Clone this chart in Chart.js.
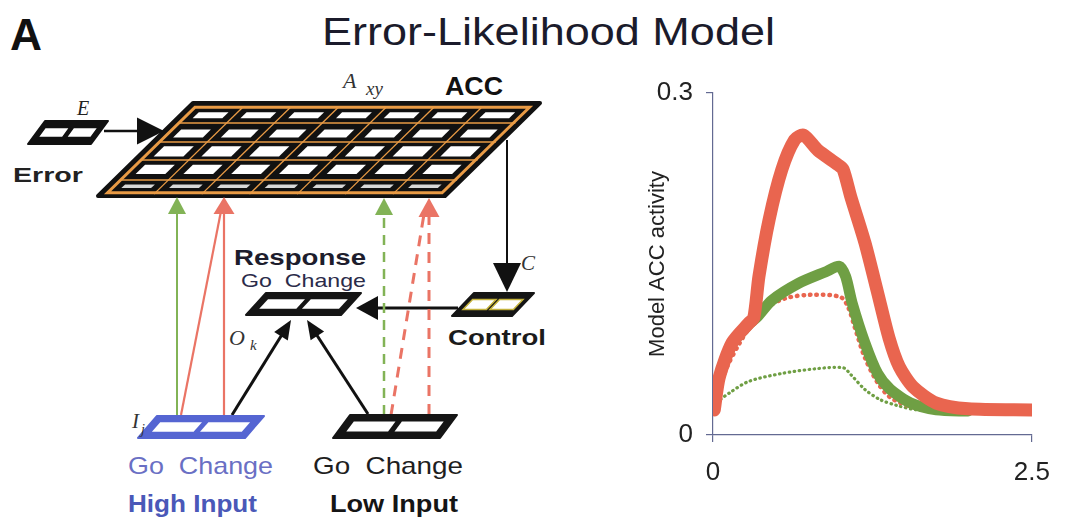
<!DOCTYPE html>
<html>
<head>
<meta charset="utf-8">
<script src="https://cdn.jsdelivr.net/npm/chart.js@4.4.1/dist/chart.umd.min.js"></script>
<style>
  body { margin: 0; background: #fff; }
  #page { position: relative; width: 1065px; height: 529px; overflow: hidden; background: #fff; }
  #diagram { position: absolute; left: 0; top: 0; }
  #diagram text { white-space: pre; }
  #chartBox { position: absolute; left: 620px; top: 60px; width: 445px; height: 469px; }
</style>
</head>
<body>
<div id="page">
  <svg id="diagram" width="1065" height="529" xmlns="http://www.w3.org/2000/svg"></svg>
  <div id="chartBox"><canvas id="accChart" width="445" height="469"></canvas></div>
</div>
<script>
// Chart data (time in s, model ACC activity)
var xTicks = [0, 2.5];
var yTicks = [0, 0.3];

var highChangeX = [0.01, 0.05, 0.15, 0.28, 0.32, 0.36, 0.44, 0.54, 0.64, 0.71, 0.82, 0.98, 1.02, 1.08, 1.19, 1.29, 1.38, 1.46, 1.57, 1.75, 2.0, 2.5];
var highChangeY = [0.022, 0.051, 0.081, 0.098, 0.103, 0.139, 0.189, 0.233, 0.259, 0.263, 0.250, 0.237, 0.233, 0.209, 0.169, 0.125, 0.085, 0.060, 0.042, 0.028, 0.023, 0.022];

var highGoX = [0.01, 0.05, 0.15, 0.28, 0.35, 0.46, 0.67, 0.88, 0.99, 1.04, 1.09, 1.19, 1.29, 1.39, 1.55, 1.75, 2.0];
var highGoY = [0.022, 0.050, 0.080, 0.097, 0.104, 0.118, 0.133, 0.143, 0.148, 0.139, 0.116, 0.081, 0.054, 0.040, 0.028, 0.022, 0.021];

var lowChangeX = [0.01, 0.03, 0.10, 0.21, 0.31, 0.41, 0.57, 0.77, 1.0, 1.06, 1.11, 1.19, 1.29, 1.39, 1.55, 1.75, 2.0];
var lowChangeY = [0.022, 0.031, 0.057, 0.081, 0.098, 0.111, 0.120, 0.123, 0.121, 0.112, 0.095, 0.068, 0.046, 0.033, 0.025, 0.022, 0.021];

var lowGoX = [0.0, 0.05, 0.13, 0.28, 0.54, 0.80, 1.02, 1.08, 1.19, 1.31, 1.44, 1.6, 2.0];
var lowGoY = [0.020, 0.030, 0.037, 0.047, 0.054, 0.058, 0.059, 0.053, 0.040, 0.031, 0.026, 0.022, 0.020];

var RED = "#e9654f";
var GREEN = "#6f9f44";
var AXIS = "#636a92";
var SANS = "'Liberation Sans', Arial, Helvetica, sans-serif";
var SERIF = "'Liberation Serif', 'Times New Roman', serif";

function pts(xs, ys) {
  return xs.map(function (x, i) { return { x: x, y: ys[i] }; });
}

// ---------- left-hand network diagram (plain SVG) ----------
var svg = document.getElementById("diagram");
var NS = "http://www.w3.org/2000/svg";

function el(tag, attrs, text) {
  var e = document.createElementNS(NS, tag);
  for (var k in attrs) e.setAttribute(k, attrs[k]);
  if (text) e.textContent = text;
  svg.appendChild(e);
  return e;
}
function poly(p, attrs) {
  attrs.points = p.map(function (q) { return q[0].toFixed(1) + "," + q[1].toFixed(1); }).join(" ");
  return el("polygon", attrs);
}
function text(x, y, s, size, opts) {
  opts = opts || {};
  var a = {
    x: x, y: y, "font-size": size,
    "font-family": opts.serif ? SERIF : SANS,
    "font-weight": opts.bold ? "bold" : "normal",
    "font-style": opts.italic ? "italic" : "normal",
    fill: opts.fill || "#1b1b2b"
  };
  if (opts.len) { a.textLength = opts.len; a.lengthAdjust = "spacingAndGlyphs"; }
  return el("text", a, s);
}
function arrow(x1, y1, x2, y2, color, width, headLen, headW, dash) {
  var dx = x2 - x1, dy = y2 - y1, L = Math.sqrt(dx * dx + dy * dy);
  var ux = dx / L, uy = dy / L;
  var bx = x2 - ux * headLen, by = y2 - uy * headLen;
  var a = { x1: x1, y1: y1, x2: bx + ux * 2, y2: by + uy * 2, stroke: color, "stroke-width": width };
  if (dash) a["stroke-dasharray"] = dash;
  el("line", a);
  if (headLen > 0) {
    poly([[x2, y2], [bx - uy * headW / 2, by + ux * headW / 2], [bx + uy * headW / 2, by - ux * headW / 2]], { fill: color });
  }
}
function line(x1, y1, x2, y2, color, width, dash) { arrow(x1, y1, x2, y2, color, width, 0, 0, dash); }

// parallelogram helper: bottom-left corner, width, height, skew to the right at top
function paraMap(bx, by, w, h, skew) {
  return function (u, v) { return [bx + skew * (1 - v) + w * u, by - h * (1 - v)]; };
}
function quad(m, u0, u1, v0, v1) { return [m(u0, v0), m(u1, v0), m(u1, v1), m(u0, v1)]; }

function smallBox(bx, by, w, h, skew, fill, inner) {
  var m = paraMap(bx, by, w, h, skew);
  poly(quad(m, 0, 1, 0, 1), { fill: fill, stroke: fill, "stroke-width": 2, "stroke-linejoin": "round" });
  poly(quad(m, 0.08, 0.47, 0.28, 0.72), { fill: "#fff", stroke: inner || "none", "stroke-width": 1.5 });
  poly(quad(m, 0.53, 0.92, 0.28, 0.72), { fill: "#fff", stroke: inner || "none", "stroke-width": 1.5 });
}

// title and panel letter
text(10, 50, "A", 44, { bold: true, fill: "#111", len: 32 });
text(322, 45, "Error-Likelihood Model", 38, { len: 453 });

// ACC grid
(function () {
  var m = function (u, v) { return [193 + 347 * u - 95 * v, 103 + 93 * v]; };
  poly(quad(m, 0, 1, 0, 1), { fill: "#111", stroke: "#111", "stroke-width": 4, "stroke-linejoin": "round" });
  var ORANGE = "#e99b45";
  var rowsV = [0.045, 0.215, 0.42, 0.613, 0.828, 0.965];
  var cellV = [[0.10, 0.165], [0.285, 0.37], [0.465, 0.575], [0.665, 0.765], [0.875, 0.915]];
  var colsU = [];
  for (var c = 0; c <= 7; c++) colsU.push(0.018 + c * (0.964 / 7));
  // orange frame + grid lines
  poly(quad(m, colsU[0], colsU[7], rowsV[0], rowsV[5]), { fill: "none", stroke: ORANGE, "stroke-width": 3 });
  rowsV.slice(1, 5).forEach(function (v) {
    var a = m(colsU[0], v), b = m(colsU[7], v);
    line(a[0], a[1], b[0], b[1], ORANGE, 1.4);
  });
  colsU.slice(1, 7).forEach(function (u) {
    var a = m(u, rowsV[0]), b = m(u, rowsV[5]);
    line(a[0], a[1], b[0], b[1], ORANGE, 1.3);
  });
  // white cells
  for (var r = 0; r < 5; r++) {
    for (var k = 0; k < 7; k++) {
      var u0 = colsU[k] + 0.026, u1 = colsU[k + 1] - 0.026;
      poly(quad(m, u0, u1, cellV[r][0], cellV[r][1]), { fill: r === 4 ? "#d8d8d8" : "#fff" });
    }
  }
})();
text(343, 88, "A", 22, { serif: true, italic: true, fill: "#333" });
text(366, 95, "xy", 19, { serif: true, italic: true, fill: "#333" });
text(445, 95, "ACC", 25, { bold: true, fill: "#111", len: 58 });

// Error unit
smallBox(28, 144, 63, 23, 17, "#111", "#111");
text(77, 115, "E", 20, { serif: true, italic: true, fill: "#222" });
text(13, 182, "Error", 21, { bold: true, fill: "#222", len: 70 });
arrow(104, 131, 164, 131, "#111", 2.5, 27, 27);

// Control loop
arrow(507, 140, 507, 292, "#111", 2, 29, 28);
text(521, 270, "C", 21, { serif: true, italic: true, fill: "#333" });
smallBox(452, 316, 60, 23, 22, "#151515", "#c4b23c");
text(448, 345, "Control", 22, { bold: true, fill: "#1b1b1b", len: 98 });
arrow(458, 308, 356, 308, "#111", 3, 22, 24);

// Response layer
smallBox(246, 315, 95, 22, 20, "#151515");
text(234, 265, "Response", 22, { bold: true, fill: "#1d1d2d", len: 132 });
text(241, 287, "Go  Change", 19, { fill: "#2b2b4a", len: 125 });
text(229, 345, "O", 22, { serif: true, italic: true, fill: "#333" });
text(250, 350, "k", 15, { serif: true, italic: true, fill: "#333" });

// connections up to the ACC
var GL = "#82b356", RL = "#ea7465";
arrow(177, 415, 177, 197, GL, 2, 17, 18);
line(181, 415, 222, 206, RL, 2.2);
arrow(224, 415, 224, 197, RL, 2.2, 17, 21);
arrow(384, 415, 384, 198, GL, 2.5, 17, 18, "10 7");
line(391, 415, 424, 214, RL, 3, "11 8");
arrow(429, 415, 429, 198, RL, 3, 19, 21, "11 8");

// input layers
arrow(232, 415, 291, 320, "#111", 3, 19, 16);
arrow(368, 414, 307, 320, "#111", 3, 19, 16);
smallBox(138, 438, 107, 22, 19, "#5565d2");
smallBox(333, 438, 107, 23, 17, "#151515");
text(132, 428, "I", 21, { serif: true, italic: true, fill: "#333" });
text(141, 434, "j", 14, { serif: true, italic: true, fill: "#333" });

text(128, 474, "Go  Change", 24, { fill: "#6a6fc4", len: 145 });
text(128, 512, "High Input", 23, { bold: true, fill: "#4a58b8", len: 129 });
text(313, 474, "Go  Change", 24, { fill: "#1e1e1e", len: 150 });
text(330, 512, "Low Input", 23, { bold: true, fill: "#151515", len: 128 });

// ---------- model ACC activity chart ----------
Chart.defaults.font.family = SANS;
Chart.defaults.color = "#222";

var ctx = document.getElementById("accChart");
var accChart = new Chart(ctx, {
  type: "line",
  data: {
    datasets: [
      {
        label: "High input, change",
        data: pts(highChangeX, highChangeY),
        borderColor: RED,
        borderWidth: 13,
        tension: 0.25,
        order: 1,
      },
      {
        label: "High input, go",
        data: pts(highGoX, highGoY),
        borderColor: GREEN,
        borderWidth: 11,
        tension: 0.25,
        order: 2,
      },
      {
        label: "Low input, change",
        data: pts(lowChangeX, lowChangeY),
        borderColor: RED,
        borderWidth: 4.5,
        borderDash: [0.5, 6],
        tension: 0.3,
        order: 3,
      },
      {
        label: "Low input, go",
        data: pts(lowGoX, lowGoY),
        borderColor: GREEN,
        borderWidth: 3.2,
        borderDash: [0.5, 4.5],
        tension: 0.3,
        order: 4,
      },
    ],
  },
  options: {
    responsive: false,
    animation: false,
    events: [],
    layout: { padding: { left: 21, top: 33, right: 28, bottom: 0 } },
    elements: {
      point: { radius: 0 },
      line: { borderCapStyle: "round", borderJoinStyle: "round", fill: false },
    },
    plugins: {
      legend: { display: false },
      tooltip: { enabled: false },
    },
    scales: {
      x: {
        type: "linear",
        min: 0,
        max: 2.5,
        afterBuildTicks: function (s) { s.ticks = xTicks.map(function (v) { return { value: v }; }); },
        afterFit: function (s) { s.height = 94; },
        grid: { drawOnChartArea: false, drawTicks: true, tickLength: 7, color: AXIS, lineWidth: 1.2 },
        border: { color: AXIS, width: 1.2 },
        ticks: {
          padding: 15,
          maxRotation: 0,
          font: { size: 26 },
          color: "#222",
          callback: function (v) { return String(v); },
        },
      },
      y: {
        min: 0,
        max: 0.3,
        afterBuildTicks: function (s) { s.ticks = yTicks.map(function (v) { return { value: v }; }); },
        afterFit: function (s) { s.width = 72; },
        grid: { drawOnChartArea: false, drawTicks: true, tickLength: 7, color: AXIS, lineWidth: 1.2 },
        border: { color: AXIS, width: 1.2 },
        ticks: {
          padding: 13,
          font: { size: 26 },
          color: "#222",
          callback: function (v) { return String(v); },
        },
        title: {
          display: true,
          text: "Model ACC activity",
          font: { size: 22 },
          color: "#222",
          padding: { top: 4, bottom: 0 },
        },
      },
    },
  },
});
</script>
</body>
</html>
